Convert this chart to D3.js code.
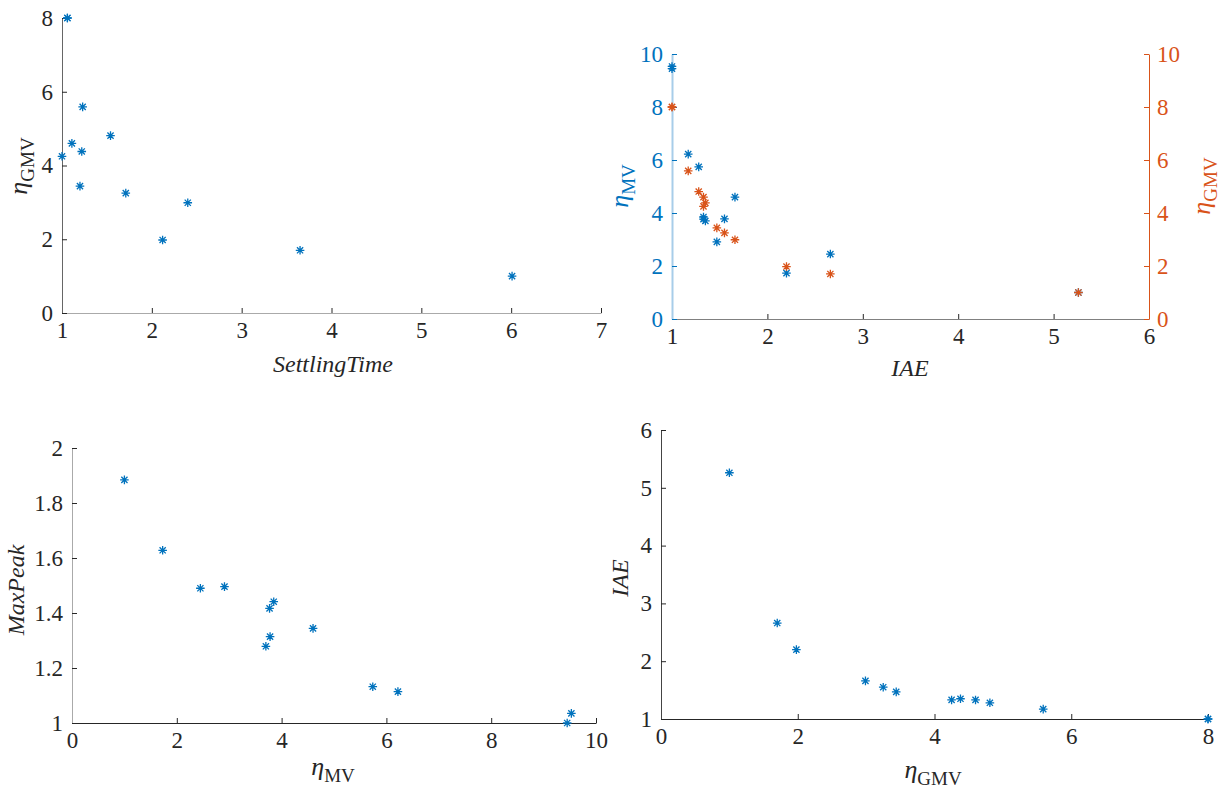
<!DOCTYPE html>
<html>
<head>
<meta charset="utf-8">
<script src="https://cdn.jsdelivr.net/npm/d3@7"></script>
<style>
  body { margin: 0; background: #fff; }
  svg { display: block; }
</style>
</head>
<body>
<div id="graph"></div>
<script>
"use strict"

// one entry per controller design
var etaGMV      = [8.00, 8.00, 5.59, 4.81, 4.60, 4.38, 4.25, 3.44, 3.25, 2.99, 1.98, 1.70, 1.00]
var etaMV       = [9.53, 9.45, 6.22, 5.74, 3.85, 3.70, 3.77, 2.91, 3.78, 4.60, 1.73, 2.45, 1.00]
var iae         = [1.00, 1.00, 1.17, 1.28, 1.33, 1.35, 1.33, 1.47, 1.55, 1.66, 2.20, 2.66, 5.26]
var settling    = [1.06, 1.06, 1.23, 1.54, 1.11, 1.22, 1.00, 1.20, 1.71, 2.40, 2.12, 3.65, 6.01]
var maxPeak     = [1.035, 1.000, 1.114, 1.132, 1.441, 1.279, 1.417, 1.496, 1.314, 1.344, 1.628, 1.490, 1.884]

var ticksST   = [1, 2, 3, 4, 5, 6, 7]
var ticks0to8 = [0, 2, 4, 6, 8]
var ticksIAE  = [1, 2, 3, 4, 5, 6]
var ticks0to10 = [0, 2, 4, 6, 8, 10]
var ticksMP   = [1, 1.2, 1.4, 1.6, 1.8, 2]

var blue = "#0072BD"
var orange = "#D95319"
var fontSize = 23
var serif = "'Liberation Serif'"
var fmt = d3.format("~g")

main()

function main() {
    let svg = d3.select("#graph").append("svg")
        .attr("width", 1220).attr("height", 794)

    // top left: eta_GMV vs settling time
    let p1 = panel(svg, {l: 62, r: 601, t: 18, b: 313}, [1, 7], [0, 8])
    axisX(p1, ticksST, "#aaa")
    axisY(p1, ticks0to8, "#666", "#262626", d3.axisLeft)
    dots(p1, settling, etaGMV, p1.y, blue)
    italicLabel(svg, "SettlingTime", 333, 372, 0)
    etaLabel(svg, "GMV", 22, 166, "#262626")

    // top right: eta_MV and eta_GMV vs IAE, two y axes
    let p2 = panel(svg, {l: 672, r: 1149, t: 54, b: 319}, [1, 6], [0, 10])
    let y2 = d3.scaleLinear().domain([0, 10]).range([319, 54])
    axisX(p2, ticksIAE, "#808080")
    axisY(p2, ticks0to10, "#a8cde9", blue, d3.axisLeft, 2)
    let right = p2.g.append("g").attr("transform", "translate(" + (p2.box.r) + ",0)")
        .call(d3.axisRight(y2).tickValues(ticks0to10).tickFormat(fmt)
            .tickSizeInner(-5).tickSizeOuter(0).tickPadding(8))
    styleAxis(right, orange, orange)
    dots(p2, iae, etaMV, p2.y, blue)
    dots(p2, iae, etaGMV, y2, orange)
    italicLabel(svg, "IAE", 910, 376, 0)
    etaLabel(svg, "MV", 623, 186, blue)
    etaLabel(svg, "GMV", 1205, 186, orange)

    // bottom left: MaxPeak vs eta_MV
    let p3 = panel(svg, {l: 72, r: 596, t: 448, b: 723}, [0, 10], [1, 2])
    axisX(p3, ticks0to10, "#262626")
    axisY(p3, ticksMP, "#aaa", "#262626", d3.axisLeft)
    dots(p3, etaMV, maxPeak, p3.y, blue)
    italicLabel(svg, "MaxPeak", 24, 590, -90)
    etaLabel(svg, "MV", 333, 775, "#262626", true)

    // bottom right: IAE vs eta_GMV
    let p4 = panel(svg, {l: 661, r: 1208, t: 430, b: 719}, [0, 8], [1, 6])
    axisX(p4, ticks0to8, "#262626")
    axisY(p4, ticksIAE, "#444", "#262626", d3.axisLeft)
    dots(p4, etaGMV, iae, p4.y, blue)
    italicLabel(svg, "IAE", 628, 578, -90)
    etaLabel(svg, "GMV", 933, 778, "#262626", true)
}

function panel(svg, box, xd, yd) {
    let g = svg.append("g")
    let x = d3.scaleLinear().domain(xd).range([box.l, box.r])
    let y = d3.scaleLinear().domain(yd).range([box.b, box.t])
    return {g: g, x: x, y: y, box: box}
}

function styleAxis(ax, lineCol, textCol, lineW) {
    ax.select(".domain").attr("stroke", lineCol).attr("stroke-width", lineW || 1)
    ax.selectAll(".tick line").attr("stroke", textCol)
    ax.selectAll(".tick text").attr("fill", textCol)
        .style("font-family", serif)
        .style("font-size", fontSize + "px")
}

function axisX(p, ticks, lineCol) {
    let ax = p.g.append("g").attr("transform", "translate(0," + p.box.b + ")")
        .call(d3.axisBottom(p.x).tickValues(ticks).tickFormat(fmt)
            .tickSizeInner(-5).tickSizeOuter(0).tickPadding(9))
    styleAxis(ax, lineCol, "#262626")
}

function axisY(p, ticks, lineCol, textCol, fn, lineW) {
    let ax = p.g.append("g").attr("transform", "translate(" + p.box.l + ",0)")
        .call(fn(p.y).tickValues(ticks).tickFormat(fmt)
            .tickSizeInner(-5).tickSizeOuter(0).tickPadding(9))
    styleAxis(ax, lineCol, textCol, lineW)
}

function starPath(r) {
    let d = r * 0.72
    return "M" + (-r) + ",0H" + r + "M0," + (-r) + "V" + r +
        "M" + (-d) + "," + (-d) + "L" + d + "," + d +
        "M" + (-d) + "," + d + "L" + d + "," + (-d)
}

function dots(p, xs, ys, yScale, col) {
    p.g.append("g").selectAll("path")
        .data(xs.map(function(v, i) { return [v, ys[i]] }))
        .enter().append("path")
        .attr("d", starPath(4.3))
        .attr("transform", function(d) {
            return "translate(" + p.x(d[0]) + "," + yScale(d[1]) + ")"
        })
        .attr("stroke", col)
        .attr("stroke-width", 1.3)
        .attr("fill", "none")
}

function italicLabel(svg, txt, x, y, rot) {
    svg.append("text")
        .attr("transform", "translate(" + x + "," + y + ") rotate(" + rot + ")")
        .attr("text-anchor", "middle")
        .style("font-family", serif)
        .style("font-size", "24px")
        .style("font-style", "italic")
        .attr("fill", "#262626")
        .text(txt)
}

function etaLabel(svg, sub, x, y, col, horizontal) {
    let t = svg.append("text")
        .attr("transform", "translate(" + x + "," + y + ")" + (horizontal ? "" : " rotate(-90)"))
        .attr("text-anchor", "middle")
        .style("font-family", serif)
        .attr("dy", horizontal ? 0 : "0.3em")
        .attr("fill", col)
    t.append("tspan").style("font-size", "26px").style("font-style", "italic").text("\u03b7")
    t.append("tspan").style("font-size", "19px").attr("dy", 7).text(sub)
}
</script>
</body>
</html>
